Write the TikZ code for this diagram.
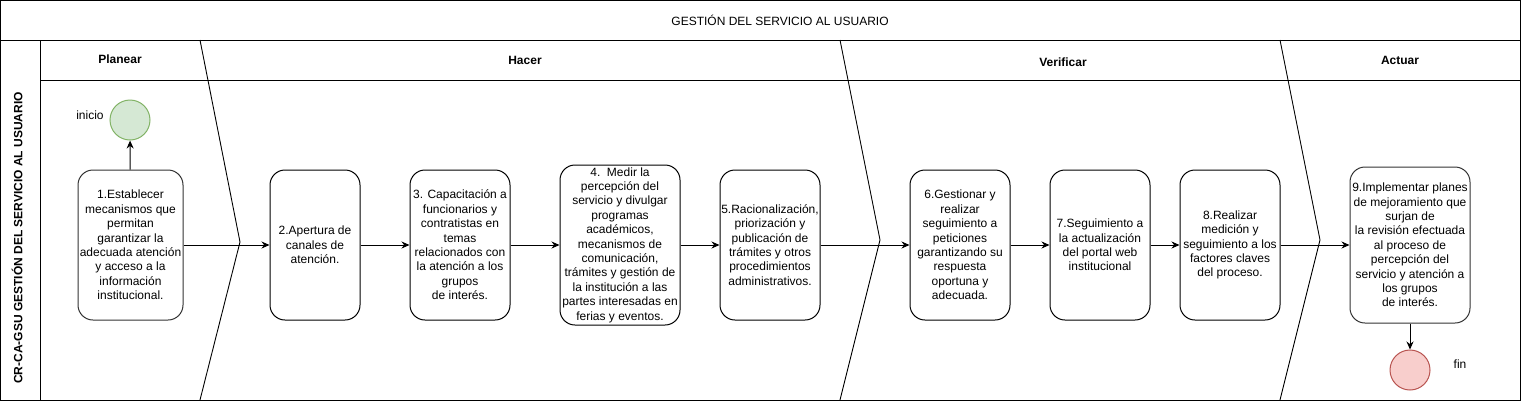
\documentclass[tikz,border=0pt]{standalone}
\usepackage{fontspec}
\setmainfont{Liberation Sans}
\usetikzlibrary{arrows.meta}
\definecolor{startfill}{HTML}{D5E8D4}
\definecolor{startline}{HTML}{82B366}
\definecolor{endfill}{HTML}{F8CECC}
\definecolor{endline}{HTML}{B85450}
\definecolor{boxgray}{HTML}{333333}
\begin{document}
\begin{tikzpicture}[x=1pt,y=-1pt,
  txt/.style={font=\fontsize{12}{14.4}\selectfont},
  phase/.style={font=\bfseries\fontsize{12}{14.4}\selectfont},
  stepbox/.style={draw, line width=1pt, rounded corners=15pt, align=center, inner sep=0pt,
     font=\fontsize{12}{14.4}\selectfont, minimum width=100pt, minimum height=150pt},
  flow/.style={line width=1pt, -{Stealth[length=8pt,width=7pt]}},
  frame/.style={line width=1pt},
  chevron/.style={line width=0.9pt},
  terminal/.style={circle, line width=1pt, minimum size=40pt, inner sep=0pt}]
\useasboundingbox (0,0) rectangle (1522,408);
% frame
\draw[frame] (0.5,0.5) rectangle (1520,400);
\draw[frame] (0.5,40) -- (1520,40);
\draw[frame] (40,40) -- (40,400);
\draw[frame] (40,80) -- (1520,80);
% chevrons
\draw[chevron] (200,40) -- (240,242) -- (200,400);
\draw[chevron] (840,40) -- (880,240) -- (840,400);
\draw[chevron] (1280,40) -- (1320,240) -- (1280,400);
% titles
\node[txt] (title) at (780,20) {GESTIÓN DEL SERVICIO AL USUARIO};
\node[phase, rotate=90] (lane) at (17,238) {CR-CA-GSU GESTIÓN DEL SERVICIO AL USUARIO};
\node[phase] (planear) at (120,59) {Planear};
\node[phase] (hacer) at (525,60) {Hacer};
\node[phase] (verificar) at (1063,62) {Verificar};
\node[phase] (actuar) at (1400,60) {Actuar};
% terminals
\node[terminal, draw=startline, fill=startfill] (start) at (130,120) {};
\node[txt] (inicio) at (90,115) {inicio};
\node[terminal, draw=endline, fill=endfill] (end) at (1410,370) {};
\node[txt] (fin) at (1460,364) {fin};
% boxes
\node[stepbox, draw=boxgray, minimum width=105pt] (b1) at (130.5,245) {1.Establecer\\mecanismos que\\permitan\\garantizar la\\adecuada atención\\y acceso a la\\información\\institucional.};
\node[stepbox, minimum width=90pt] (b2) at (315,245) {2.Apertura de\\canales de\\atención.};
\node[stepbox] (b3) at (460,245) {3. Capacitación a\\funcionarios y\\contratistas en\\temas\\relacionados con\\la atención a los\\grupos\\de interés.};
\node[stepbox, minimum width=120pt, minimum height=160pt] (b4) at (620,245) {4.\ \ Medir la\\percepción del\\servicio y divulgar\\programas\\académicos,\\mecanismos de\\comunicación,\\trámites y gestión de\\la institución a las\\partes interesadas en\\ferias y eventos.};
\node[stepbox] (b5) at (770,245) {5.Racionalización,\\priorización y\\publicación de\\trámites y otros\\procedimientos\\administrativos.};
\node[stepbox] (b6) at (960,245) {6.Gestionar y\\realizar\\seguimiento a\\peticiones\\garantizando su\\respuesta\\oportuna y\\adecuada.};
\node[stepbox] (b7) at (1100,245) {7.Seguimiento a\\la actualización\\del portal web\\institucional};
\node[stepbox] (b8) at (1230,245) {8.Realizar\\medición y\\seguimiento a los\\factores claves\\del proceso.};
\node[stepbox, draw=boxgray, minimum width=120pt, minimum height=156pt] (b9) at (1410,245) {9.Implementar planes\\de mejoramiento que\\surjan de\\la revisión efectuada\\al proceso de\\percepción del\\servicio y atención a\\los grupos\\de interés.};
% connectors
\draw[flow] (b1) -- (start);
\draw[flow] (b1) -- (b2);
\draw[flow] (b2) -- (b3);
\draw[flow] (b3) -- (b4);
\draw[flow] (b4) -- (b5);
\draw[flow] (b5) -- (b6);
\draw[flow] (b6) -- (b7);
\draw[flow] (b7) -- (b8);
\draw[flow] (b8) -- (b9);
\draw[flow] (b9) -- (end);
\end{tikzpicture}
\end{document}
